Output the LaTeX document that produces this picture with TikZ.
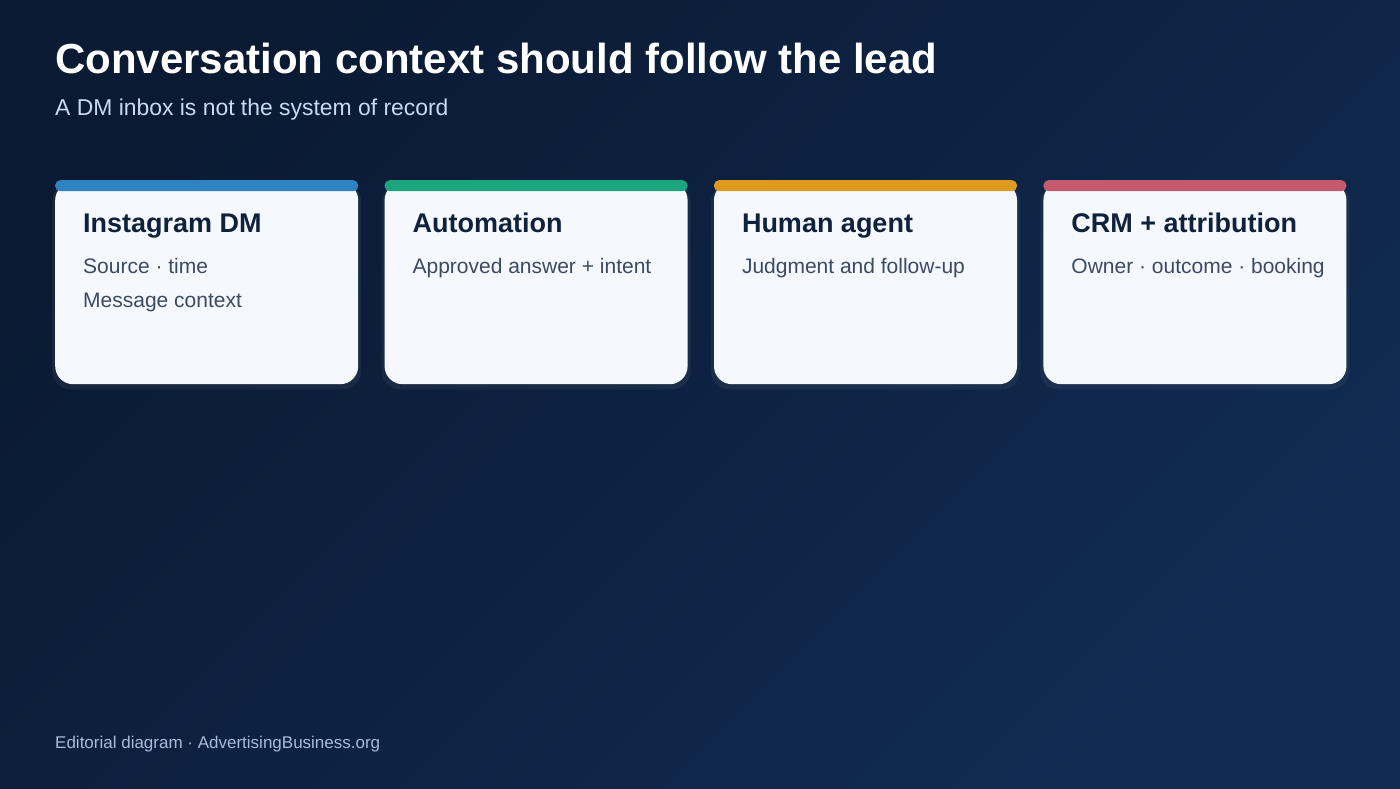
\documentclass[tikz,border=0pt]{standalone}
\usepackage{fontspec}
\setmainfont{Liberation Sans}
\usetikzlibrary{positioning,shadows}

\definecolor{bgtop}{HTML}{0A1A33}
\definecolor{bgbot}{HTML}{112B52}
\definecolor{cardfill}{HTML}{F5F9FE}
\definecolor{inktitle}{HTML}{0F213B}
\definecolor{inkbody}{HTML}{3B4A62}
\definecolor{subtext}{HTML}{C8DAF2}
\definecolor{foottext}{HTML}{A5BCDA}
\definecolor{barblue}{HTML}{2E84C0}
\definecolor{bargreen}{HTML}{1CA47E}
\definecolor{barorange}{HTML}{DE9A1E}
\definecolor{barred}{HTML}{C45A6D}

\tikzset{card/.style = {fill=cardfill, rounded corners=18pt, minimum width=303pt, minimum height=202pt,
    inner sep=0pt, anchor=north west, drop shadow={opacity=0.12, shadow xshift=0pt, shadow yshift=-3pt, shadow scale=1.02}}}
\tikzset{bar/.style = {rounded corners=5pt, minimum width=303pt, minimum height=11pt, inner sep=0pt, anchor=north west}}
\tikzset{cardtitle/.style = {font=\bfseries\fontsize{27}{31}\selectfont, text=inktitle, anchor=base west, inner sep=0pt}}
\tikzset{cardline/.style = {font=\fontsize{21}{25}\selectfont, text=inkbody, anchor=base west, inner sep=0pt}}

\begin{document}
\begin{tikzpicture}[x=1pt, y=-1pt]
	% background
	\shade[top color=bgtop, bottom color=bgbot, shading angle=45] (0,0) rectangle (1400,788);
	\useasboundingbox (0,0) rectangle (1400,788);

	% heading
	\node[font=\bfseries\fontsize{42}{48}\selectfont, text=white, anchor=base west, inner sep=0pt] (title) at (55,73) {Conversation context should follow the lead};
	\node[font=\fontsize{22.9}{27}\selectfont, text=subtext, anchor=base west, inner sep=0pt] (subtitle) at (55,115) {A DM inbox is not the system of record};

	% cards
	\node[card] (dm) at (55,182) {};
	\node[card, right=26pt of dm] (auto) {};
	\node[card, right=26pt of auto] (agent) {};
	\node[card, right=26pt of agent] (crm) {};

	\node[bar, fill=barblue] (dmbar) at ([yshift=2pt]dm.north west) {};
	\node[bar, fill=bargreen] (autobar) at ([yshift=2pt]auto.north west) {};
	\node[bar, fill=barorange] (agentbar) at ([yshift=2pt]agent.north west) {};
	\node[bar, fill=barred] (crmbar) at ([yshift=2pt]crm.north west) {};

	\node[cardtitle] (dmtitle) at ([xshift=28pt, yshift=-50pt]dm.north west) {Instagram DM};
	\node[cardline] (dmline1) at ([yshift=-41pt]dmtitle.base west) {Source · time};
	\node[cardline] (dmline2) at ([yshift=-34pt]dmline1.base west) {Message context};

	\node[cardtitle] (autotitle) at ([xshift=28pt, yshift=-50pt]auto.north west) {Automation};
	\node[cardline] (autoline1) at ([yshift=-41pt]autotitle.base west) {Approved answer + intent};

	\node[cardtitle] (agenttitle) at ([xshift=28pt, yshift=-50pt]agent.north west) {Human agent};
	\node[cardline] (agentline1) at ([yshift=-41pt]agenttitle.base west) {Judgment and follow-up};

	\node[cardtitle] (crmtitle) at ([xshift=28pt, yshift=-50pt]crm.north west) {CRM + attribution};
	\node[cardline] (crmline1) at ([yshift=-41pt]crmtitle.base west) {Owner · outcome · booking};

	% footer
	\node[font=\fontsize{17}{20}\selectfont, text=foottext, anchor=base west, inner sep=0pt] (footer) at (55,748) {Editorial diagram · AdvertisingBusiness.org};
\end{tikzpicture}
\end{document}
